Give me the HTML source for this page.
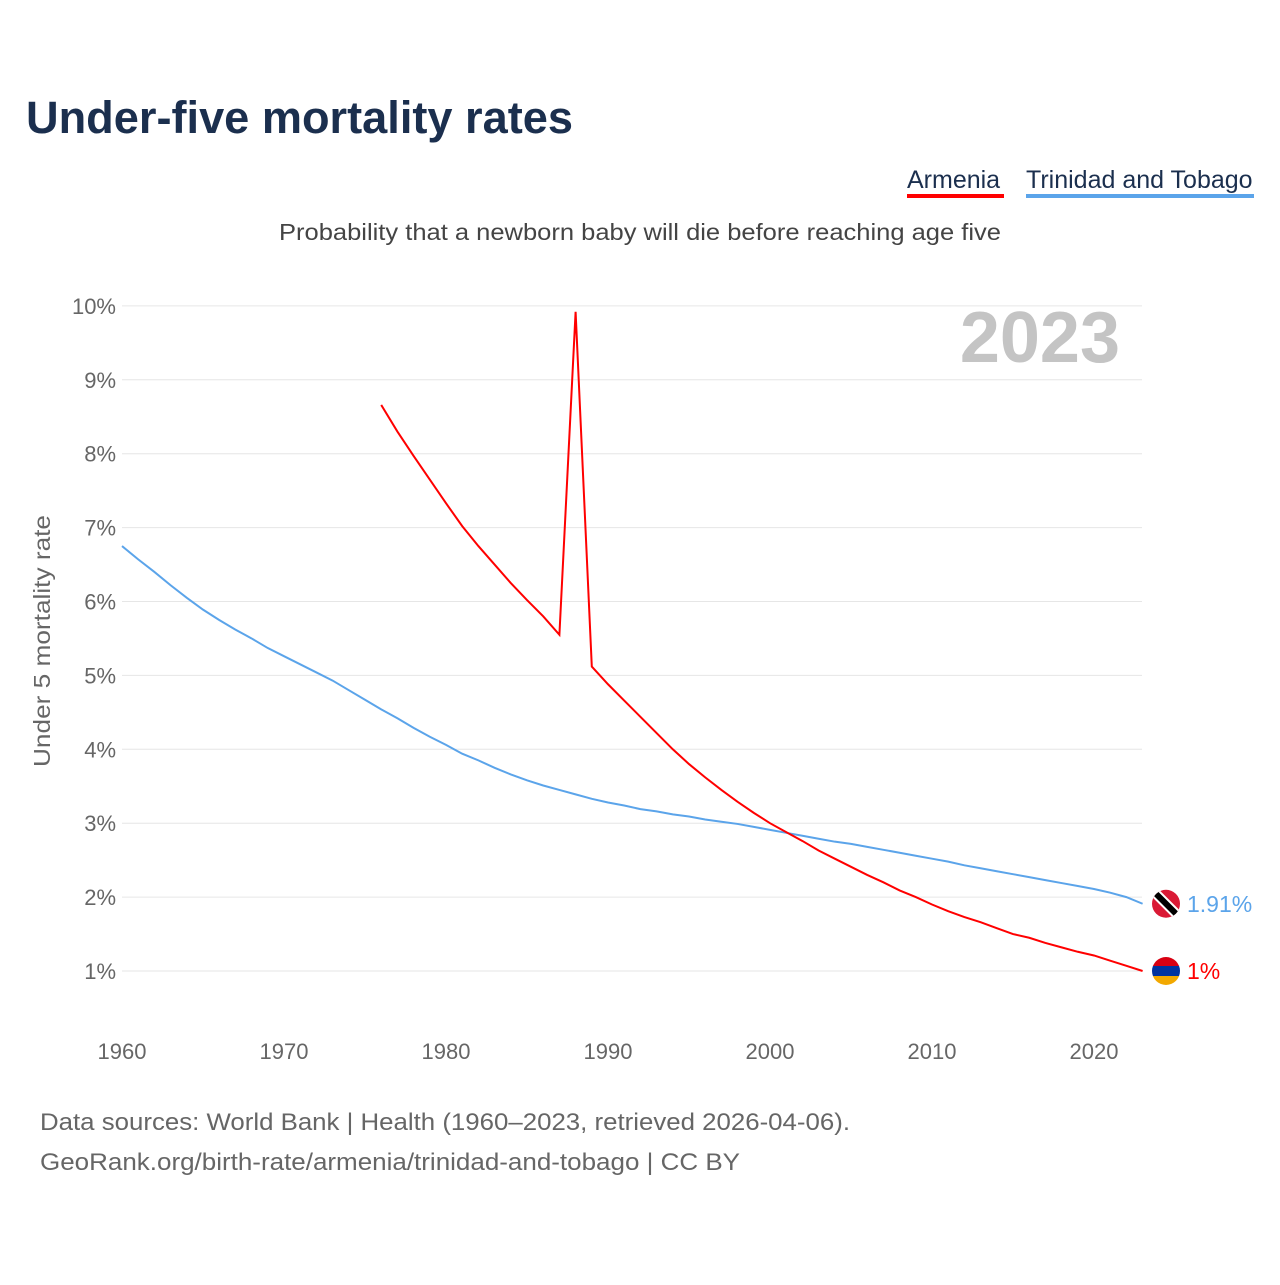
<!DOCTYPE html>
<html><head><meta charset="utf-8"><style>
body{margin:0;width:1280px;height:1280px;background:#fff;overflow:hidden}
svg text{font-family:"Liberation Sans",sans-serif}
</style></head><body>
<svg id="chart" width="1280" height="1280">
<text x="26" y="133" font-size="45" font-weight="bold" fill="#1b2f4e" textLength="547" lengthAdjust="spacingAndGlyphs">Under-five mortality rates</text>
<g>
<text x="907" y="188" font-size="25" fill="#1b2f4e">Armenia</text>
<rect x="907" y="194" width="97" height="4" fill="#ff0000"/>
<text x="1026" y="188" font-size="25" fill="#1b2f4e">Trinidad and Tobago</text>
<rect x="1026" y="194" width="228" height="4" fill="#5ba4ea"/>
</g>
<text x="279" y="240" font-size="23" fill="#444" textLength="722" lengthAdjust="spacingAndGlyphs">Probability that a newborn baby will die before reaching age five</text>
<text x="1120" y="362" font-size="72" font-weight="bold" fill="#c4c4c4" text-anchor="end">2023</text>
<text transform="translate(50,767) rotate(-90)" font-size="23" fill="#666" textLength="252" lengthAdjust="spacingAndGlyphs">Under 5 mortality rate</text>
<g id="grid"></g><g id="lines"></g><g id="ends"></g>
<text x="40" y="1130" font-size="24" fill="#666" textLength="810" lengthAdjust="spacingAndGlyphs">Data sources: World Bank | Health (1960–2023, retrieved 2026-04-06).</text>
<text x="40" y="1170" font-size="24" fill="#666" textLength="700" lengthAdjust="spacingAndGlyphs">GeoRank.org/birth-rate/armenia/trinidad-and-tobago | CC BY</text>
</svg>
<script>
const yTicks=[1,2,3,4,5,6,7,8,9,10];
const xTicks=[1960,1970,1980,1990,2000,2010,2020];
const armYears=[1976,1977,1978,1979,1980,1981,1982,1983,1984,1985,1986,1987,1988,1989,1990,1991,1992,1993,1994,1995,1996,1997,1998,1999,2000,2001,2002,2003,2004,2005,2006,2007,2008,2009,2010,2011,2012,2013,2014,2015,2016,2017,2018,2019,2020,2021,2022,2023];
const armVals=[8.66,8.3,7.97,7.65,7.33,7.02,6.75,6.5,6.25,6.02,5.8,5.55,9.92,5.12,4.88,4.66,4.44,4.22,4.0,3.8,3.62,3.45,3.29,3.14,3.0,2.88,2.76,2.63,2.52,2.41,2.3,2.2,2.09,2.0,1.9,1.81,1.73,1.66,1.58,1.5,1.45,1.38,1.32,1.26,1.21,1.14,1.07,1.0];
const ttYears=[1960,1961,1962,1963,1964,1965,1966,1967,1968,1969,1970,1971,1972,1973,1974,1975,1976,1977,1978,1979,1980,1981,1982,1983,1984,1985,1986,1987,1988,1989,1990,1991,1992,1993,1994,1995,1996,1997,1998,1999,2000,2001,2002,2003,2004,2005,2006,2007,2008,2009,2010,2011,2012,2013,2014,2015,2016,2017,2018,2019,2020,2021,2022,2023];
const ttVals=[6.75,6.57,6.4,6.22,6.05,5.89,5.75,5.62,5.5,5.37,5.26,5.15,5.04,4.93,4.8,4.67,4.54,4.42,4.29,4.17,4.06,3.94,3.85,3.75,3.66,3.58,3.51,3.45,3.39,3.33,3.28,3.24,3.19,3.16,3.12,3.09,3.05,3.02,2.99,2.95,2.91,2.87,2.83,2.79,2.75,2.72,2.68,2.64,2.6,2.56,2.52,2.48,2.43,2.39,2.35,2.31,2.27,2.23,2.19,2.15,2.11,2.06,2.0,1.91];
const NS="http://www.w3.org/2000/svg";
const X=y=>122+(y-1960)*16.2, Y=v=>971-(v-1)*73.9;
function mk(t,a,p){const e=document.createElementNS(NS,t);for(const k in a)e.setAttribute(k,a[k]);p.appendChild(e);return e;}
const grid=document.getElementById('grid');
yTicks.forEach(v=>{
 const l=mk('line',{x1:122,x2:1142,y1:Y(v),y2:Y(v),stroke:'#e6e6e6','stroke-width':1},grid);
 
 
 const t=mk('text',{x:116,y:Y(v)+8,'font-size':22,fill:'#666','text-anchor':'end'},grid);t.textContent=v+'%';
 
 
});
xTicks.forEach(yr=>{
 const t=mk('text',{x:X(yr),y:1059,'font-size':22,fill:'#666','text-anchor':'middle'},grid);t.textContent=yr;
 
 
});
const lines=document.getElementById('lines');
function series(ys,vs,c,n){
 const p=mk('path',{d:ys.map((y,i)=>(i?'L':'M')+X(y)+' '+Y(vs[i])).join(''),fill:'none',stroke:c,'stroke-width':2},lines);
 
 
}
series(ttYears,ttVals,'#5ba4ea','line-trinidad');
series(armYears,armVals,'#ff0000','line-armenia');
const ends=document.getElementById('ends');
const ttL=ttVals[ttVals.length-1], arL=armVals[armVals.length-1];
const fx=1166;
const g1=mk('g',{},ends);


const cp1=mk('clipPath',{id:'c1'},g1);mk('circle',{cx:fx,cy:Y(ttL),r:14},cp1);
const gg=mk('g',{'clip-path':'url(#c1)'},g1);
mk('rect',{x:fx-15,y:Y(ttL)-15,width:30,height:30,fill:'#da1a35'},gg);
mk('line',{x1:fx-14,y1:Y(ttL)-14,x2:fx+14,y2:Y(ttL)+14,stroke:'#fff','stroke-width':10},gg);
mk('line',{x1:fx-14,y1:Y(ttL)-14,x2:fx+14,y2:Y(ttL)+14,stroke:'#000','stroke-width':6},gg);
const t1=mk('text',{x:1187,y:Y(ttL)+8,'font-size':23,fill:'#5ba4ea'},ends);t1.textContent=ttL.toFixed(2)+'%';


const g2=mk('g',{},ends);


const cp=mk('clipPath',{id:'c2'},g2);mk('circle',{cx:fx,cy:Y(arL),r:14},cp);
const g3=mk('g',{'clip-path':'url(#c2)'},g2);
mk('rect',{x:fx-15,y:Y(arL)-15,width:30,height:10,fill:'#d90012'},g3);
mk('rect',{x:fx-15,y:Y(arL)-5,width:30,height:10,fill:'#0033a0'},g3);
mk('rect',{x:fx-15,y:Y(arL)+5,width:30,height:10,fill:'#f2a800'},g3);
const t2=mk('text',{x:1187,y:Y(arL)+8,'font-size':23,fill:'#ff0000'},ends);t2.textContent=Math.round(arL)+'%';


</script>
</body></html>
